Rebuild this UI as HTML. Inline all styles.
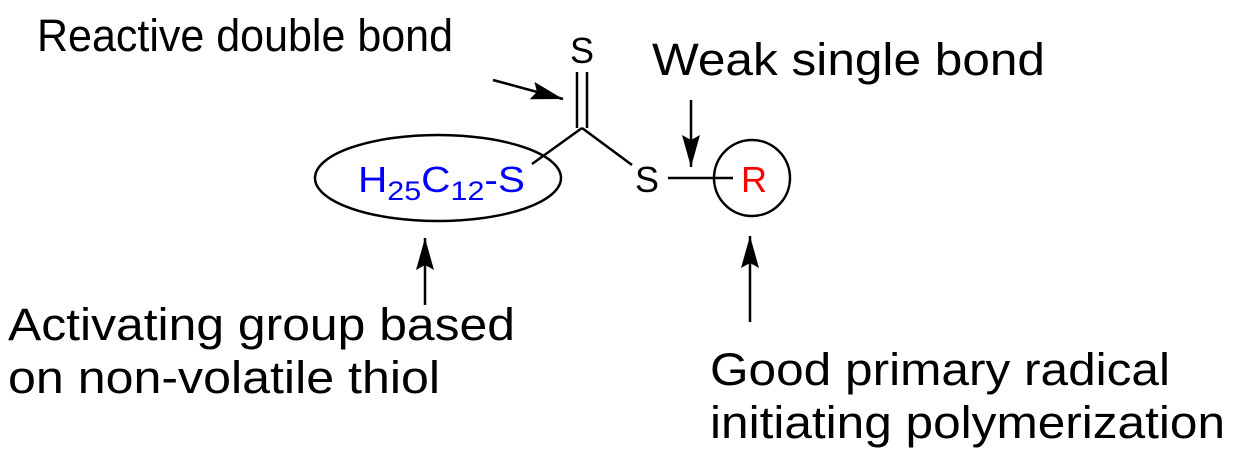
<!DOCTYPE html>
<html><head><meta charset="utf-8"><style>html,body{margin:0;padding:0;background:#fff}svg{display:block}</style></head>
<body>
<svg width="1237" height="463" viewBox="0 0 1237 463" xmlns="http://www.w3.org/2000/svg" font-family="Liberation Sans, Arial, sans-serif">
<defs>
<marker id="b" markerWidth="32" markerHeight="18" refX="32" refY="9" orient="auto" markerUnits="userSpaceOnUse"><path d="M0,0 L32,9 L0,18 L5,9 Z" fill="#000"/></marker></defs>
<g font-size="45" fill="#000">
<text x="37" y="51" textLength="416" lengthAdjust="spacingAndGlyphs">Reactive double bond</text>
<text x="652" y="75" textLength="393" lengthAdjust="spacingAndGlyphs">Weak single bond</text>
<text x="8" y="340" textLength="507" lengthAdjust="spacingAndGlyphs">Activating group based</text>
<text x="8" y="393" textLength="432" lengthAdjust="spacingAndGlyphs">on non-volatile thiol</text>
<text x="710" y="385" textLength="460" lengthAdjust="spacingAndGlyphs">Good primary radical</text>
<text x="710" y="438" textLength="515" lengthAdjust="spacingAndGlyphs">initiating polymerization</text>
</g>
<g stroke="#000" stroke-width="2.5" fill="none">
<ellipse cx="438" cy="178" rx="123" ry="43"/>
<circle cx="752" cy="178" r="38"/>
<line x1="577" y1="72" x2="577" y2="128"/>
<line x1="587" y1="72" x2="587" y2="128"/>
<line x1="532" y1="164" x2="582" y2="128"/>
<line x1="582" y1="128" x2="632" y2="165"/>
<line x1="668" y1="178" x2="733" y2="178"/>
<line x1="493" y1="80" x2="563" y2="99" marker-end="url(#b)"/>
<line x1="691" y1="100" x2="691" y2="167" marker-end="url(#b)"/>
<line x1="425" y1="305" x2="425" y2="238" marker-end="url(#b)"/>
<line x1="750" y1="322" x2="750" y2="236" marker-end="url(#b)"/>
</g>
<text x="582" y="63" font-size="36" text-anchor="middle">S</text>
<text x="647" y="192" font-size="36" text-anchor="middle">S</text>
<text x="754" y="192" font-size="36" text-anchor="middle" fill="#f00">R</text>
<text x="358" y="192" font-size="36" fill="#00f" textLength="167" lengthAdjust="spacingAndGlyphs">H<tspan font-size="27" dy="8">25</tspan><tspan dy="-8">C</tspan><tspan font-size="27" dy="8">12</tspan><tspan dy="-8">-S</tspan></text>
</svg>
</body></html>
